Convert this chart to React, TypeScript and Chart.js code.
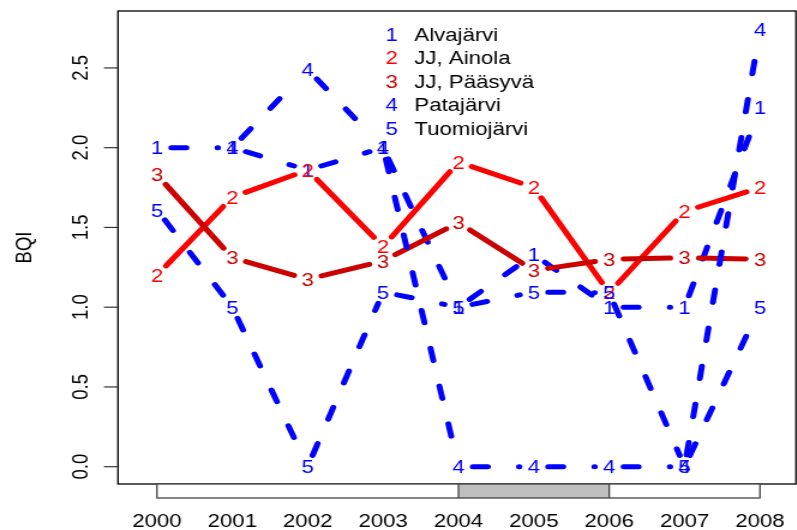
import React, { useEffect, useRef } from "react";
import { Chart, registerables } from "chart.js";

Chart.register(...registerables);

// ---- data ----
const YEARS = [2000, 2001, 2002, 2003, 2004, 2005, 2006, 2007, 2008];
const SERIES_NAMES = ["Alvajärvi", "JJ, Ainola", "JJ, Pääsyvä", "Patajärvi", "Tuomiojärvi"];
const SERIES_SYMBOLS = ["1", "2", "3", "4", "5"];
const ALVAJARVI = [2.0, 2.0, 1.86, 2.0, 1.0, 1.33, 1.0, 1.0, 2.25];
const JJ_AINOLA = [1.2, 1.69, 1.86, 1.38, 1.91, 1.75, 1.09, 1.6, 1.75];
const JJ_PAASYVA = [1.83, 1.31, 1.175, 1.29, 1.53, 1.23, 1.3, 1.31, 1.3];
const PATAJARVI: (number | null)[] = [null, 2.0, 2.49, 2.0, 0, 0, 0, 0, 2.74];
const TUOMIOJARVI = [1.61, 1.0, 0.0, 1.095, 1.0, 1.095, 1.09, 0.0, 1.0];
const SERIES_VALUES = [ALVAJARVI, JJ_AINOLA, JJ_PAASYVA, PATAJARVI, TUOMIOJARVI];
const SERIES_COLORS = ["#0000FF", "#FF0000", "#CD0000", "#0000FF", "#0000FF"];
const SERIES_DASHED = [true, false, false, true, true];
const Y_TICKS = [0, 0.5, 1.0, 1.5, 2.0, 2.5];
const Y_TICK_LABELS = ["0.0", "0.5", "1.0", "1.5", "2.0", "2.5"];
const Y_LABEL = "BQI";
const PERIOD = [2004, 2006]; // shaded part of the time bar

// ---- style ----
const STRETCH = 1.2;
const CW = 665;
const CH = 530;
const FONT_PX = 18.5;
const FONT = `${FONT_PX}px "Liberation Sans", Arial, Helvetica, sans-serif`;
const CAP = FONT_PX * 0.716;
const LW = 5;
const GAP = 12;
const DASH = [12.5, 26];

const rPlugin = {
  id: "rstyle",
  beforeDatasetsDraw(chart: any) {
    const { ctx, chartArea: ca, scales } = chart;
    const xs = scales.x;
    const ys = scales.y;
    ctx.save();
    ctx.fillStyle = "#fff";
    ctx.fillRect(0, 0, chart.width, chart.height);
    // frame
    ctx.strokeStyle = "#000";
    ctx.lineWidth = 1.3;
    ctx.strokeRect(ca.left, ca.top, ca.right - ca.left, ca.bottom - ca.top);
    // y ticks and labels
    ctx.strokeStyle = "#333";
    ctx.lineWidth = 1.2;
    ctx.fillStyle = "#000";
    ctx.font = FONT;
    Y_TICKS.forEach((v, i) => {
      const py = ys.getPixelForValue(v);
      ctx.beginPath();
      ctx.moveTo(ca.left - 11.7, py);
      ctx.lineTo(ca.left, py);
      ctx.stroke();
      ctx.save();
      ctx.translate(ca.left - 25.5, py);
      ctx.rotate(-Math.PI / 2);
      ctx.textAlign = "center";
      ctx.textBaseline = "alphabetic";
      ctx.fillText(Y_TICK_LABELS[i], 0, 0);
      ctx.restore();
    });
    // y axis title
    ctx.save();
    ctx.translate(25.6, (ca.top + ca.bottom) / 2);
    ctx.rotate(-Math.PI / 2);
    ctx.textAlign = "center";
    ctx.fillText(Y_LABEL, 0, 0);
    ctx.restore();
    // time bar
    const x0 = xs.getPixelForValue(YEARS[0]);
    const x1 = xs.getPixelForValue(YEARS[YEARS.length - 1]);
    const p0 = xs.getPixelForValue(PERIOD[0]);
    const p1 = xs.getPixelForValue(PERIOD[1]);
    const barTop = ca.bottom;
    const barBot = ca.bottom + 14;
    ctx.fillStyle = "#fff";
    ctx.fillRect(x0, barTop, x1 - x0, barBot - barTop);
    ctx.fillStyle = "#BEBEBE";
    ctx.fillRect(p0, barTop, p1 - p0, barBot - barTop);
    ctx.strokeStyle = "#444";
    ctx.lineWidth = 1.3;
    ctx.strokeRect(x0, barTop, x1 - x0, barBot - barTop);
    ctx.beginPath();
    ctx.moveTo(p0, barTop);
    ctx.lineTo(p0, barBot);
    ctx.moveTo(p1, barTop);
    ctx.lineTo(p1, barBot);
    ctx.stroke();
    // year labels
    ctx.fillStyle = "#000";
    ctx.textAlign = "center";
    ctx.textBaseline = "alphabetic";
    YEARS.forEach((yr) => {
      ctx.fillText(String(yr), xs.getPixelForValue(yr), 527);
    });
    ctx.restore();
  },
  afterDatasetsDraw(chart: any) {
    const { ctx, chartArea: ca } = chart;
    ctx.save();
    ctx.beginPath();
    ctx.rect(ca.left, ca.top, ca.right - ca.left, ca.bottom - ca.top);
    ctx.clip();
    SERIES_VALUES.forEach((vals, di) => {
      const meta = chart.getDatasetMeta(di);
      const pts = meta.data.map((el: any, i: number) =>
        vals[i] == null ? null : { x: el.x, y: el.y }
      );
      ctx.strokeStyle = SERIES_COLORS[di];
      ctx.lineWidth = LW;
      ctx.lineCap = "round";
      ctx.setLineDash(SERIES_DASHED[di] ? DASH : []);
      for (let i = 0; i < pts.length - 1; i++) {
        const a = pts[i];
        const b = pts[i + 1];
        if (!a || !b) continue;
        const dx = b.x - a.x;
        const dy = b.y - a.y;
        const len = Math.hypot(dx, dy);
        if (len <= 2 * GAP) continue;
        const ux = dx / len;
        const uy = dy / len;
        ctx.beginPath();
        ctx.moveTo(a.x + ux * GAP, a.y + uy * GAP);
        ctx.lineTo(b.x - ux * GAP, b.y - uy * GAP);
        ctx.stroke();
      }
      ctx.setLineDash([]);
      ctx.fillStyle = SERIES_COLORS[di];
      ctx.font = FONT;
      ctx.textAlign = "center";
      ctx.textBaseline = "alphabetic";
      pts.forEach((p: any) => {
        if (p) ctx.fillText(SERIES_SYMBOLS[di], p.x, p.y + CAP / 2);
      });
    });
    ctx.restore();
    // legend
    ctx.save();
    ctx.font = FONT;
    ctx.textBaseline = "alphabetic";
    SERIES_NAMES.forEach((name, i) => {
      const by = 41 + i * 23.4;
      ctx.fillStyle = SERIES_COLORS[i];
      ctx.textAlign = "center";
      ctx.fillText(SERIES_SYMBOLS[i], 326.3, by);
      ctx.fillStyle = "#000";
      ctx.textAlign = "left";
      ctx.fillText(name, 345.3, by);
    });
    ctx.restore();
  },
};

export default function App() {
  const ref = useRef<HTMLCanvasElement | null>(null);
  useEffect(() => {
    if (!ref.current) return;
    const chart = new Chart(ref.current, {
      type: "line",
      data: {
        datasets: SERIES_VALUES.map((vals, di) => ({
          label: SERIES_NAMES[di],
          data: YEARS.map((yr, i) => ({ x: yr, y: vals[i] })) as any,
          showLine: false,
          pointRadius: 0,
          pointHoverRadius: 0,
          borderColor: SERIES_COLORS[di],
        })),
      },
      options: {
        responsive: false,
        maintainAspectRatio: false,
        animation: false,
        events: [],
        layout: { padding: { left: 98.3, right: CW - 663.3, top: 11, bottom: CH - 484 } },
        scales: {
          x: { type: "linear", min: 1999.483, max: 2008.478, display: false },
          y: { type: "linear", min: -0.1085, max: 2.857, display: false },
        },
        plugins: { legend: { display: false }, tooltip: { enabled: false } },
      },
      plugins: [rPlugin],
    });
    return () => chart.destroy();
  }, []);
  return (
    <div
      style={{
        position: "fixed",
        left: 0,
        top: 0,
        width: 797,
        height: 530,
        overflow: "hidden",
        background: "#fff",
      }}
    >
      <canvas
        ref={ref}
        width={CW}
        height={CH}
        style={{ display: "block", transform: `scaleX(${STRETCH})`, transformOrigin: "0 0" }}
      />
    </div>
  );
}
